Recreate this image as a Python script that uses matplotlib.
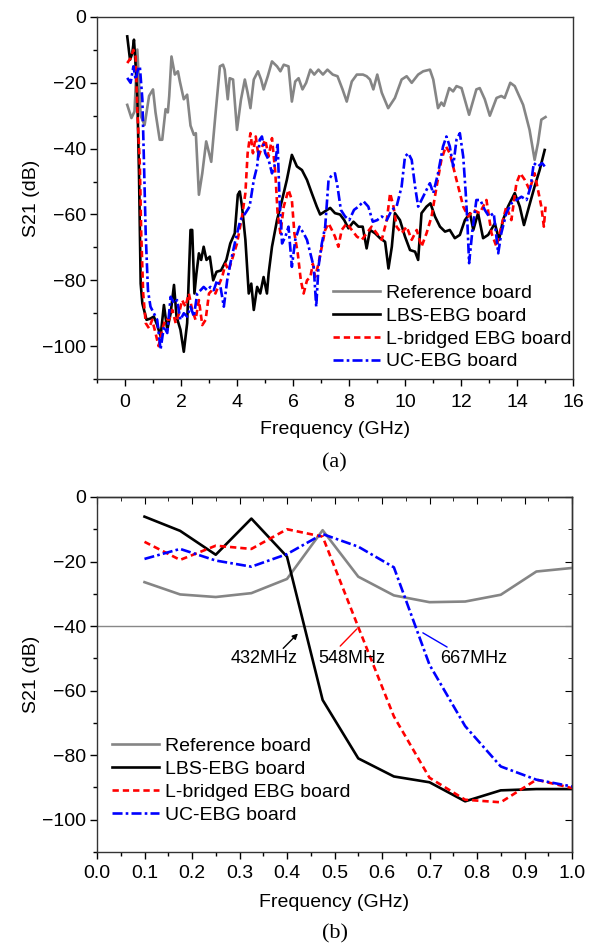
import matplotlib
matplotlib.use("Agg")
import matplotlib.pyplot as plt
from matplotlib.ticker import MultipleLocator

plt.rcParams['font.family'] = ['Liberation Sans', 'DejaVu Sans']

# (a) wide band, 0-15 GHz
ref_f = [0.08, 0.23, 0.34, 0.44, 0.56, 0.70, 0.86, 1.0, 1.09, 1.24, 1.33, 1.45, 1.53, 1.58, 1.66,
         1.78, 1.89, 1.96, 2.1, 2.22, 2.34, 2.46, 2.53, 2.64, 2.76, 2.9, 3.08, 3.23, 3.39, 3.5,
         3.56, 3.67, 3.74, 3.86, 4.0, 4.14, 4.28, 4.38, 4.48, 4.6, 4.75, 4.86, 4.95, 5.1, 5.25,
         5.43, 5.55, 5.67, 5.84, 5.96, 6.08, 6.2, 6.34, 6.47, 6.62, 6.76, 6.91, 7.07, 7.23, 7.42,
         7.59, 7.77, 7.92, 8.1, 8.28, 8.5, 8.63, 8.75, 8.87, 9.01, 9.17, 9.4, 9.64, 9.88, 10.06,
         10.24, 10.47, 10.65, 10.89, 11.01, 11.18, 11.3, 11.39, 11.58, 11.72, 11.84, 12.02, 12.29,
         12.55, 12.67, 12.85, 13.03, 13.27, 13.44, 13.56, 13.76, 13.92, 14.22, 14.45, 14.63,
         14.75, 14.87, 15.02]
ref_db = [-26.7, -30.7, -28.7, -9.9, -30, -32.8, -24, -22, -29, -37.3, -37.3, -28, -29, -24, -12,
          -17.5, -16.5, -19.6, -25, -23.6, -33, -35.8, -35.3, -54, -47.5, -37.8, -44, -29.7, -15,
          -14.5, -16, -25, -18.6, -19, -34.3, -25.2, -19, -23, -27.7, -19, -16.5, -19, -22, -18,
          -13.5, -15, -16.5, -14.5, -15, -25.7, -19.6, -18.6, -22, -20, -16, -17.5, -16, -17.5,
          -16, -17.5, -18, -22, -25.7, -19.6, -17.5, -17.5, -18, -19, -22, -17.5, -23, -27.7,
          -24.6, -19, -18, -20, -17.5, -16.5, -16, -19, -27.7, -26, -27, -21.6, -22.6, -21, -21.6,
          -29.7, -22, -21.6, -25, -30, -24.6, -24, -24.6, -20, -21, -26.7, -34.3, -43.4, -38.3,
          -31.2, -30.4]

lbs_f = [0.08, 0.18, 0.26, 0.32, 0.36, 0.44, 0.5, 0.56, 0.62, 0.77, 0.91, 1.03, 1.15, 1.27, 1.39,
         1.51, 1.63, 1.75, 1.84, 1.98, 2.1, 2.22, 2.34, 2.4, 2.48, 2.55, 2.64, 2.72, 2.81, 2.91,
         3.03, 3.15, 3.27, 3.43, 3.62, 3.76, 3.92, 4.03, 4.1, 4.18, 4.3, 4.42, 4.51, 4.6, 4.72,
         4.83, 4.95, 5.07, 5.13, 5.25, 5.43, 5.61, 5.78, 5.96, 6.14, 6.32, 6.5, 6.67, 6.85, 6.97,
         7.15, 7.33, 7.5, 7.68, 7.83, 7.98, 8.16, 8.34, 8.49, 8.63, 8.75, 8.93, 9.11, 9.29, 9.41,
         9.53, 9.64, 9.82, 10.0, 10.18, 10.36, 10.47, 10.59, 10.77, 10.91, 11.07, 11.25, 11.43,
         11.6, 11.78, 11.96, 12.14, 12.32, 12.44, 12.61, 12.79, 12.97, 13.21, 13.36, 13.5, 13.68,
         13.92, 14.1, 14.25, 14.43, 14.63, 14.81, 14.99]
lbs_db = [-5.9, -13, -11, -6.9, -12, -24, -47.5, -81, -87, -92, -91.6, -91, -93.6, -97, -87.5,
          -95, -90, -81.4, -91, -95, -101.7, -93, -64.7, -64.7, -84, -78, -71.8, -73.8, -69.8,
          -73.8, -72.8, -80, -77.4, -77, -73.8, -68.8, -65.7, -54, -53, -57.6, -67.7, -84, -81,
          -89, -82, -84, -79, -84, -77.9, -69.8, -61.7, -55.6, -49.5, -41.9, -45.4, -46.5, -49.5,
          -53.5, -57.6, -60, -59, -58, -59.6, -60, -61.7, -64.2, -62.2, -63.7, -63.7, -70.3,
          -64.7, -65.7, -67.2, -68.3, -76.4, -69.8, -59.6, -61.7, -66.7, -70.8, -71.3, -73.8,
          -59.6, -57.6, -56.6, -60.6, -63.7, -65.2, -64.7, -67.2, -66.2, -61.7, -59.6, -64.7,
          -59.6, -67.2, -66.2, -62.7, -67.7, -61.7, -57.6, -53.5, -57.6, -63.2, -57.6, -51.5,
          -46.5, -40.4]

lb_f = [0.08, 0.2, 0.3, 0.38, 0.44, 0.53, 0.58, 0.65, 0.74, 0.86, 0.97, 1.09, 1.2, 1.33, 1.45,
        1.57, 1.69, 1.81, 1.93, 2.04, 2.16, 2.28, 2.4, 2.52, 2.64, 2.76, 2.88, 3.0, 3.11, 3.23,
        3.35, 3.47, 3.59, 3.7, 3.82, 4.0, 4.18, 4.3, 4.38, 4.48, 4.57, 4.67, 4.77, 4.9, 5.01,
        5.13, 5.25, 5.37, 5.45, 5.55, 5.67, 5.84, 5.96, 6.05, 6.17, 6.28, 6.38, 6.5, 6.62, 6.71,
        6.79, 6.91, 7.03, 7.15, 7.27, 7.39, 7.5, 7.62, 7.74, 7.92, 8.1, 8.28, 8.46, 8.63, 8.81,
        8.99, 9.17, 9.35, 9.47, 9.59, 9.7, 9.88, 10.06, 10.24, 10.42, 10.59, 10.77, 10.95, 11.13,
        11.3, 11.46, 11.6, 11.72, 11.84, 11.96, 12.08, 12.26, 12.44, 12.67, 12.91, 13.09, 13.27,
        13.44, 13.62, 13.8, 13.98, 14.12, 14.28, 14.45, 14.63, 14.75, 14.87, 14.96, 15.02]
lb_db = [-14, -12.5, -10, -12, -28, -45, -66, -84, -93, -94.6, -92, -96, -100, -95, -91.6, -92,
         -89, -93, -90, -86, -88, -84, -89, -92, -86, -93.6, -92, -84, -83, -84, -81.4, -79, -75,
         -77, -73.8, -68.8, -60.6, -53.5, -41.4, -35.3, -41.4, -36.3, -42.4, -39.3, -37.3, -42.4,
         -36.8, -47.5, -59.6, -65.7, -57.6, -52.5, -55.6, -65.7, -71.8, -80, -84, -80, -79, -75,
         -79, -75, -69.8, -64.7, -62.7, -64.7, -66.7, -69.8, -64.7, -62.7, -64.7, -66.7, -67.7,
         -65.7, -63.7, -65.7, -67.7, -61.7, -53.5, -57.6, -63.7, -65.7, -63.7, -67.7, -64.7,
         -69.8, -65.7, -60.6, -51.5, -43.4, -39.3, -41.4, -45.4, -49.5, -53.5, -57.6, -60.6,
         -58.6, -59.6, -55.6, -65.7, -69.8, -63.7, -57.6, -61.7, -50.5, -47.5, -49.5, -52.5,
         -47.5, -52.5, -57.6, -63.7, -57.6]

uc_f = [0.08, 0.2, 0.3, 0.38, 0.46, 0.53, 0.62, 0.68, 0.74, 0.82, 0.91, 1.03, 1.15, 1.27, 1.39,
        1.51, 1.63, 1.75, 1.86, 1.98, 2.1, 2.22, 2.34, 2.46, 2.58, 2.7, 2.81, 2.93, 3.05, 3.17,
        3.29, 3.41, 3.53, 3.65, 3.76, 3.94, 4.12, 4.3, 4.45, 4.6, 4.72, 4.81, 4.89, 5.01, 5.13,
        5.25, 5.37, 5.45, 5.52, 5.61, 5.73, 5.84, 5.96, 6.08, 6.23, 6.38, 6.5, 6.62, 6.74, 6.83,
        6.91, 7.03, 7.15, 7.27, 7.39, 7.5, 7.59, 7.71, 7.86, 8.01, 8.18, 8.34, 8.52, 8.69, 8.85,
        9.01, 9.17, 9.35, 9.53, 9.7, 9.88, 10.0, 10.12, 10.24, 10.36, 10.47, 10.59, 10.77, 10.89,
        11.01, 11.18, 11.36, 11.48, 11.6, 11.72, 11.84, 11.96, 12.08, 12.17, 12.23, 12.29, 12.41,
        12.55, 12.69, 12.85, 13.0, 13.17, 13.33, 13.44, 13.62, 13.8, 13.98, 14.16, 14.34, 14.49,
        14.6, 14.75, 14.9, 14.99]
uc_db = [-18.5, -20, -15, -19, -16, -15, -25, -45, -66, -83, -88, -90, -92, -101, -94, -96, -85,
         -87, -86, -92, -90, -91, -88, -91, -84, -83, -82, -83, -82, -83, -80, -82, -88, -80, -75,
         -68, -61.7, -59.6, -57.6, -49.5, -45.4, -37.3, -36.3, -41.4, -43.4, -47.5, -44.4, -38.3,
         -55.6, -68.8, -66.7, -63.7, -75.9, -67.7, -63.7, -65.7, -67.7, -71.8, -75.9, -88, -75.9,
         -68.8, -63.7, -49.5, -48, -47.5, -51.5, -58.6, -60.6, -61.7, -58.6, -57.6, -56, -57.6,
         -62.2, -61.7, -60.6, -61.7, -58.6, -57.6, -51.5, -42.4, -41.4, -43.4, -51.5, -57.6,
         -55.6, -52.5, -50.5, -53.5, -47.5, -39.3, -36.3, -39.3, -45.4, -37.3, -35.3, -42.4,
         -53.5, -62.7, -74.8, -64.7, -55.6, -55.6, -58.6, -60.6, -59.6, -71.8, -65.7, -59.6,
         -56.6, -55.6, -54.6, -55.6, -51.5, -44.4, -45.4, -44.4, -45.4]

# (b) zoom on 0.1-1.0 GHz
fb = [0.1, 0.175, 0.25, 0.325, 0.4, 0.475, 0.55, 0.625, 0.7, 0.775, 0.85, 0.925, 1.0]
ref_b = [-26.4, -30.2, -31, -29.8, -25.4, -10.3, -24.7, -30.5, -32.6, -32.4, -30.3, -23.1, -22]
lbs_b = [-6.1, -10.5, -17.9, -6.7, -18.5, -62.9, -81, -86.6, -88.4, -94.3, -90.9, -90.5, -90.5]
lb_b = [-13.9, -19.5, -15.1, -16.1, -10, -12.3, -40.3, -68, -87, -93.8, -94.6, -87.6, -90.2]
uc_b = [-19.2, -16.1, -19.7, -21.6, -17.7, -11.5, -15.4, -21.8, -52, -71, -83.5, -87.6, -89.7]

labels = ['Reference board', 'LBS-EBG board', 'L-bridged EBG board', 'UC-EBG board']
FS = 14

fig = plt.figure(figsize=(5.94, 9.43), dpi=100)
ax1 = fig.add_axes([0.1633, 0.598, 0.8013, 0.384])
ax2 = fig.add_axes([0.1633, 0.0965, 0.7997, 0.3765])


def draw(ax, series):
    ax.plot(*series[0], color='#858585', lw=1.9, label=labels[0])
    ax.plot(*series[1], color='black', lw=1.9, label=labels[1])
    ax.plot(*series[2], color='#ff0000', lw=1.9, ls=(0, (2.4, 1.5)), label=labels[2])
    ax.plot(*series[3], color='#0000ff', lw=1.9, ls=(0, (3.8, 1.2, 1, 1.2)), label=labels[3])


draw(ax1, [(ref_f, ref_db), (lbs_f, lbs_db), (lb_f, lb_db), (uc_f, uc_db)])
draw(ax2, [(fb, ref_b), (fb, lbs_b), (fb, lb_b), (fb, uc_b)])

ax2.axhline(-40, color='#888888', lw=1, zorder=1)

ax1.set_xlim(-1, 16)
ax1.set_ylim(-110, 0)
ax1.xaxis.set_major_locator(MultipleLocator(2))
ax1.xaxis.set_minor_locator(MultipleLocator(1))
ax2.set_xlim(0, 1)
ax2.set_ylim(-110, 0)
ax2.xaxis.set_major_locator(MultipleLocator(0.1))
ax2.xaxis.set_minor_locator(MultipleLocator(0.05))
ax2.xaxis.set_major_formatter(plt.FormatStrFormatter('%.1f'))

for ax in (ax1, ax2):
    ax.yaxis.set_major_locator(MultipleLocator(20))
    ax.yaxis.set_minor_locator(MultipleLocator(10))
    ax.tick_params(which='major', length=5, width=1, labelsize=FS, direction='out')
    ax.tick_params(which='minor', length=3, width=1, direction='out')
    ax.tick_params(axis='y', which='major', pad=3)
    for s in ax.spines.values():
        s.set_linewidth(1)
        s.set_color('#333333')
    ax.set_ylabel('S21 (dB)', fontsize=FS, labelpad=1.5)

ax1.tick_params(axis='x', which='major', pad=6)
ax2.tick_params(axis='x', which='major', pad=4)
ax1.set_xlabel('Frequency (GHz)', fontsize=FS, labelpad=7)
ax2.set_xlabel('Frequency (GHz)', fontsize=FS, labelpad=9)

# mirrored inward ticks on (b)
top = ax2.secondary_xaxis('top')
top.xaxis.set_major_locator(MultipleLocator(0.1))
top.xaxis.set_minor_locator(MultipleLocator(0.05))
top.tick_params(which='major', direction='in', length=5, labeltop=False)
top.tick_params(which='minor', direction='in', length=3)
right = ax2.secondary_yaxis('right')
right.yaxis.set_major_locator(MultipleLocator(20))
right.yaxis.set_minor_locator(MultipleLocator(10))
right.tick_params(which='major', direction='in', length=5, labelright=False)
right.tick_params(which='minor', direction='in', length=3)
for sec in (top, right):
    for s in sec.spines.values():
        s.set_linewidth(1)
        s.set_color('#333333')

ax1.legend(loc='upper left', bbox_to_anchor=(0.496, 0.262), frameon=False, fontsize=FS,
           handlelength=2.42, handletextpad=0.3, labelspacing=0.27, borderpad=0, borderaxespad=0)
ax2.legend(loc='upper left', bbox_to_anchor=(0.032, 0.322), frameon=False, fontsize=FS,
           handlelength=2.42, handletextpad=0.3, labelspacing=0.27, borderpad=0, borderaxespad=0)

# crossing annotations at -40 dB
ax2.text(0.352, -49.9, '432MHz', fontsize=13, ha='center', va='center')
ax2.text(0.537, -49.9, '548MHz', fontsize=13, ha='center', va='center')
ax2.text(0.794, -49.9, '667MHz', fontsize=13, ha='center', va='center')
ax2.annotate('', xy=(0.423, -42.3), xytext=(0.392, -46.9),
             arrowprops=dict(arrowstyle='-|>', color='black', lw=1, mutation_scale=8,
                             shrinkA=0, shrinkB=0))
ax2.annotate('', xy=(0.547, -40.9), xytext=(0.512, -46.2),
             arrowprops=dict(arrowstyle='-', color='red', lw=1, shrinkA=0, shrinkB=0))
ax2.annotate('', xy=(0.686, -42.1), xytext=(0.737, -46.5),
             arrowprops=dict(arrowstyle='-', color='blue', lw=1, shrinkA=0, shrinkB=0))

fig.text(0.5635, (943 - 463) / 943, '(a)', family='Liberation Serif', fontsize=16,
         ha='center', va='center')
fig.text(0.5635, (943 - 934) / 943, '(b)', family='Liberation Serif', fontsize=16,
         ha='center', va='center')

fig.savefig('out.png', dpi=100)
